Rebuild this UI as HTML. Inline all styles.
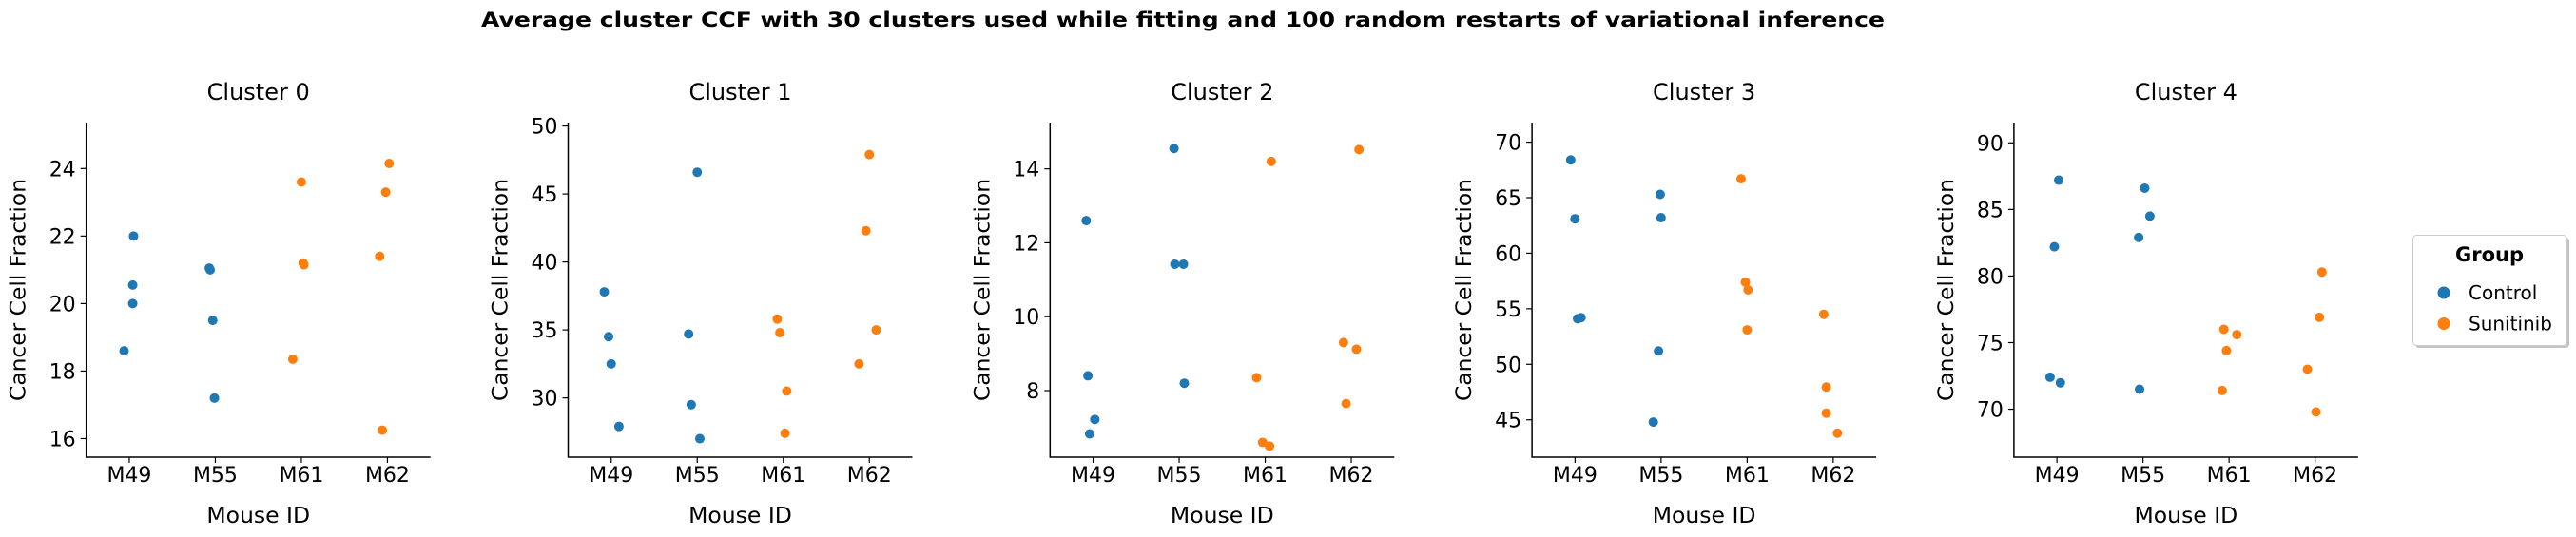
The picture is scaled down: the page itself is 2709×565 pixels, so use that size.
<!DOCTYPE html>
<html><head><meta charset="utf-8">
<style>
html,body{margin:0;padding:0;background:#fff;}
svg{display:block;font-family:"DejaVu Sans","Liberation Sans",sans-serif;}
</style></head>
<body>
<svg id="chart" width="2709" height="565" viewBox="0 0 2709 565" xmlns="http://www.w3.org/2000/svg">
<text x="1244" y="28" text-anchor="middle" font-size="21" font-weight="bold" textLength="1476" lengthAdjust="spacingAndGlyphs">Average cluster CCF with 30 clusters used while fitting and 100 random restarts of variational inference</text>
<g id="panels"></g>
<g>
<rect x="2540" y="250" width="162" height="116" rx="4" fill="#999" opacity="0.6"/>
<rect x="2537.5" y="247.5" width="162" height="116" rx="4" fill="#fff" stroke="#ccc" stroke-width="1"/>
<text x="2618" y="275" text-anchor="middle" font-size="21" font-weight="bold">Group</text>
<circle cx="2570" cy="308" r="6.5" fill="#1f77b4"/>
<text x="2596" y="315" font-size="20">Control</text>
<circle cx="2570" cy="340.5" r="6.5" fill="#ff7f0e"/>
<text x="2596" y="347.5" font-size="20">Sunitinib</text>
</g>
</svg>
<script>
const categories = ["M49","M55","M61","M62"];
const groupOfCategory = ["Control","Control","Sunitinib","Sunitinib"];
const clusterTitles = ["Cluster 0","Cluster 1","Cluster 2","Cluster 3","Cluster 4"];
const yMin = [15.45, 25.64, 6.2, 41.64, 66.4];
const yMax = [25.36, 50.25, 15.25, 71.76, 91.52];
const ticks0 = [16,18,20,22,24];
const ticks1 = [30,35,40,45,50];
const ticks2 = [8,10,12,14];
const ticks3 = [45,50,55,60,65,70];
const ticks4 = [70,75,80,85,90];
const c0M49 = [22.0,20.55,20.0,18.6], c0M55 = [21.05,21.0,19.5,17.2], c0M61 = [23.6,21.2,21.15,18.35], c0M62 = [24.15,23.3,21.4,16.25];
const c1M49 = [37.8,34.5,32.5,27.9], c1M55 = [46.6,34.7,29.5,27.0], c1M61 = [35.8,34.8,30.5,27.4], c1M62 = [47.9,42.3,35.0,32.5];
const c2M49 = [12.6,8.4,7.22,6.83], c2M55 = [14.55,11.42,11.42,8.2], c2M61 = [14.2,8.35,6.6,6.5], c2M62 = [14.52,9.3,9.12,7.65];
const c3M49 = [68.4,63.1,54.2,54.1], c3M55 = [65.3,63.2,51.2,44.8], c3M61 = [66.7,57.4,56.7,53.1], c3M62 = [54.5,47.95,45.6,43.8];
const c4M49 = [87.2,82.2,72.4,71.98], c4M55 = [86.6,84.5,82.9,71.5], c4M61 = [76.0,75.6,74.4,71.4], c4M62 = [80.3,76.9,73.0,69.8];
// strip-plot jitter (category units) per point
const j0M49 = [0.05,0.04,0.04,-0.06], j0M55 = [-0.07,-0.06,-0.03,-0.01], j0M61 = [0,0.02,0.03,-0.1], j0M62 = [0.02,-0.02,-0.09,-0.06];
const j1M49 = [-0.08,-0.03,0,0.09], j1M55 = [0,-0.1,-0.07,0.03], j1M61 = [-0.07,-0.04,0.04,0.02], j1M62 = [0,-0.04,0.08,-0.12];
const j2M49 = [-0.08,-0.06,0.02,-0.04], j2M55 = [-0.06,-0.05,0.05,0.06], j2M61 = [0.07,-0.1,-0.03,0.05], j2M62 = [0.09,-0.09,0.06,-0.06];
const j3M49 = [-0.05,0,0.07,0.03], j3M55 = [-0.01,0,-0.03,-0.09], j3M61 = [-0.07,-0.02,0.01,0], j3M62 = [-0.11,-0.08,-0.08,0.05];
const j4M49 = [0.02,-0.03,-0.08,0.04], j4M55 = [0.02,0.08,-0.05,-0.04], j4M61 = [-0.06,0.09,-0.03,-0.08], j4M62 = [0.08,0.05,-0.09,0.01];

const allTicks = [ticks0,ticks1,ticks2,ticks3,ticks4];
const allData = [[c0M49,c0M55,c0M61,c0M62],[c1M49,c1M55,c1M61,c1M62],[c2M49,c2M55,c2M61,c2M62],[c3M49,c3M55,c3M61,c3M62],[c4M49,c4M55,c4M61,c4M62]];
const allJitter = [[j0M49,j0M55,j0M61,j0M62],[j1M49,j1M55,j1M61,j1M62],[j2M49,j2M55,j2M61,j2M62],[j3M49,j3M55,j3M61,j3M62],[j4M49,j4M55,j4M61,j4M62]];
const groupColors = {Control:"#1f77b4", Sunitinib:"#ff7f0e"};

(function(){
const NS = "http://www.w3.org/2000/svg";
const root = document.getElementById("panels");
const panelLeft = 90.7, panelStep = 506.8, plotW = 362, plotTop = 129, plotBottom = 481;
function mk(tag, attrs, parent){const e=document.createElementNS(NS,tag);for(const k in attrs)e.setAttribute(k,attrs[k]);parent.appendChild(e);return e;}

for (let p = 0; p < 5; p++) {
  const L = panelLeft + p*panelStep, R = L + plotW;
  const g = mk("g", {}, root);
  
  
  const xS = i => L + (i + 0.5) * plotW / categories.length;
  const yS = v => plotBottom - (v - yMin[p]) / (yMax[p] - yMin[p]) * (plotBottom - plotTop);
  const t = mk("text", {x:(L+R)/2, y:105, "text-anchor":"middle", "font-size":"24"}, g);
  t.textContent = clusterTitles[p];
  
  
  const ax = mk("path", {d:`M${L} ${plotTop}V${plotBottom}H${R}`, fill:"none", stroke:"#000", "stroke-width":"1.5"}, g);
  
  
  allTicks[p].forEach(v => {
    const y = yS(v);
    mk("line", {x1:L-6, x2:L, y1:y, y2:y, stroke:"#000", "stroke-width":"1.2"}, g);
    const tl = mk("text", {x:L-11, y:y+8, "text-anchor":"end", "font-size":"22"}, g);
    tl.textContent = v;
    
    
  });
  categories.forEach((c, i) => {
    const x = xS(i);
    mk("line", {x1:x, x2:x, y1:plotBottom, y2:plotBottom+6, stroke:"#000", "stroke-width":"1.2"}, g);
    const tl = mk("text", {x:x, y:507, "text-anchor":"middle", "font-size":"22"}, g);
    tl.textContent = c;
    
    
    allData[p][i].forEach((v, k) => {
      const dot = mk("circle", {cx:xS(i + allJitter[p][i][k]), cy:yS(v), r:"5", fill:groupColors[groupOfCategory[i]]}, g);
      
      
    });
  });
  const xl = mk("text", {x:(L+R)/2, y:550, "text-anchor":"middle", "font-size":"23.5"}, g);
  xl.textContent = "Mouse ID";
  
  
  const yx = L - 64, yy = (plotTop + plotBottom)/2;
  const yl = mk("text", {x:yx, y:yy, "text-anchor":"middle", "font-size":"22", transform:`rotate(-90 ${yx} ${yy})`, textLength:"234", lengthAdjust:"spacingAndGlyphs"}, g);
  yl.textContent = "Cancer Cell Fraction";
  
  
}
})();
</script>
</body></html>
